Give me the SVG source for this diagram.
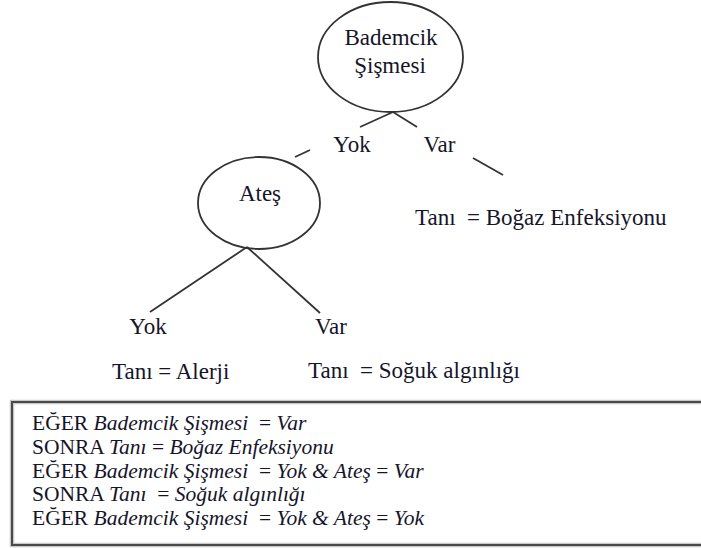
<svg xmlns="http://www.w3.org/2000/svg" width="701" height="548" viewBox="0 0 701 548">
<style>
text{font-family:'Liberation Serif','DejaVu Serif',serif;fill:#15152a;white-space:pre}
.t{font-size:23px}
.c{text-anchor:middle}
.b{font-size:21.5px}
.i{font-style:italic}
.node{fill:none;stroke:#333;stroke-width:1.8}
.edge{stroke:#333;stroke-width:1.8;fill:none}
</style>
<rect width="701" height="548" fill="#fff"/>
<g id="connectors">
<line class="edge" x1="393" y1="112" x2="360" y2="127"/>
<line class="edge" x1="393" y1="112" x2="417" y2="127"/>
<line class="edge" x1="295" y1="157" x2="310" y2="150"/>
<line class="edge" x1="473" y1="158" x2="503" y2="175"/>
<line class="edge" x1="247" y1="247" x2="150" y2="312"/>
<line class="edge" x1="247" y1="247" x2="320" y2="313"/>
</g>
<g id="node-bademcik">
<ellipse class="node" cx="390.5" cy="57" rx="72.5" ry="55"/>
<text class="t c" x="391" y="45">Bademcik</text>
<text class="t c" x="390" y="73">Şişmesi</text>
</g>
<g id="label-yok1"><text class="t c" x="352" y="152">Yok</text></g>
<g id="label-var1"><text class="t c" x="439.5" y="152">Var</text></g>
<g id="node-ates">
<ellipse class="node" cx="259" cy="203" rx="61" ry="46"/>
<text class="t c" x="260" y="201">Ateş</text>
</g>
<g id="node-bogaz"><text class="t" x="415" y="225">Tanı  = Boğaz Enfeksiyonu</text></g>
<g id="label-yok2"><text class="t c" x="148" y="334">Yok</text></g>
<g id="label-var2"><text class="t c" x="331" y="334">Var</text></g>
<g id="node-alerji"><text class="t" x="112" y="379">Tanı = Alerji</text></g>
<g id="node-soguk"><text class="t" x="308" y="378">Tanı  = Soğuk algınlığı</text></g>
<g id="rules">
<rect x="12" y="402" width="700" height="143" fill="none" stroke="#c8c8c8" stroke-width="4.5"/>
<rect x="12" y="402" width="700" height="143" fill="none" stroke="#4a4a4a" stroke-width="2"/>
<text class="b" x="32" y="430">EĞER <tspan class="i">Bademcik Şişmesi</tspan>  = <tspan class="i">Var</tspan></text>
<text class="b" x="32" y="454">SONRA <tspan class="i">Tanı</tspan> = <tspan class="i">Boğaz Enfeksiyonu</tspan></text>
<text class="b" x="32" y="478">EĞER <tspan class="i">Bademcik Şişmesi</tspan>  = <tspan class="i">Yok &amp; Ateş</tspan> = <tspan class="i">Var</tspan></text>
<text class="b" x="32" y="501">SONRA <tspan class="i">Tanı</tspan>  = <tspan class="i">Soğuk algınlığı</tspan></text>
<text class="b" x="32" y="525">EĞER <tspan class="i">Bademcik Şişmesi</tspan>  = <tspan class="i">Yok &amp; Ateş</tspan> = <tspan class="i">Yok</tspan></text>
</g>
</svg>
